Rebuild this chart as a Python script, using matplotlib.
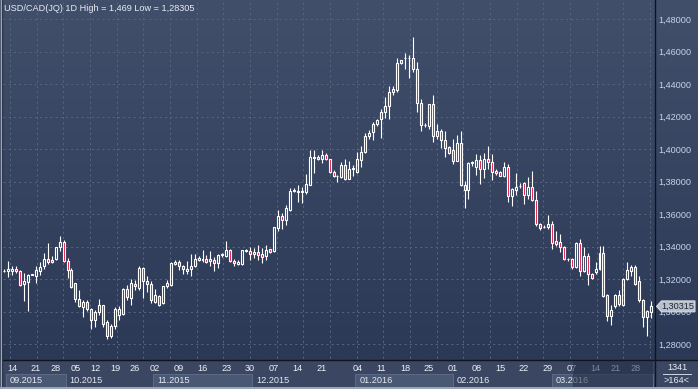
import numpy as np
import matplotlib
matplotlib.use("Agg")
import matplotlib.pyplot as plt
from matplotlib.colors import LinearSegmentedColormap
from matplotlib.patches import Rectangle, Polygon

plt.rcParams["font.family"] = ["Liberation Sans", "DejaVu Sans"]

# -----------------------------
# USD/CAD daily candles
# -----------------------------
opens = [
    1.3252, 1.3248, 1.3248, 1.3263, 1.3252, 1.3169, 1.3181, 1.3227, 1.3217, 1.3248,
    1.3279, 1.3325, 1.3319, 1.3325, 1.3400, 1.3429, 1.3310, 1.3254, 1.3175, 1.3079,
    1.3029, 1.3060, 1.3013, 1.2946, 1.2998, 1.3038, 1.2933, 1.2852, 1.2908, 1.2977,
    1.2983, 1.3138, 1.3081, 1.3171, 1.3144, 1.3269, 1.3190, 1.3171, 1.3060, 1.3096,
    1.3050, 1.3154, 1.3165, 1.3294, 1.3304, 1.3277, 1.3248, 1.3263, 1.3279, 1.3317,
    1.3319, 1.3325, 1.3313, 1.3317, 1.3300, 1.3346, 1.3342, 1.3376, 1.3310, 1.3290,
    1.3290, 1.3375, 1.3371, 1.3367, 1.3367, 1.3355, 1.3341, 1.3382, 1.3371, 1.3514,
    1.3586, 1.3565, 1.3627, 1.3744, 1.3738, 1.3740, 1.3733, 1.3780, 1.3945, 1.3939,
    1.3937, 1.3963, 1.3937, 1.3857, 1.3831, 1.3827, 1.3902, 1.3816, 1.3880, 1.3861,
    1.3933, 1.3984, 1.4080, 1.4102, 1.4153, 1.4184, 1.4225, 1.4262, 1.4348, 1.4364,
    1.4528, 1.4560, 1.4557, 1.4557, 1.4495, 1.4282, 1.4150, 1.4143, 1.4276, 1.4077,
    1.4108, 1.4054, 1.4013, 1.3993, 1.3927, 1.4034, 1.3777, 1.3749, 1.3916, 1.3890,
    1.3933, 1.3880, 1.3937, 1.3923, 1.3866, 1.3859, 1.3835, 1.3890, 1.3708, 1.3749,
    1.3772, 1.3790, 1.3718, 1.3769, 1.3689, 1.3540, 1.3521, 1.3522, 1.3536, 1.3431,
    1.3429, 1.3398, 1.3321, 1.3324, 1.3274, 1.3419, 1.3247, 1.3344, 1.3231, 1.3241,
    1.3264, 1.3357, 1.3103, 1.2975, 1.3031, 1.3103, 1.3041, 1.3200, 1.3247, 1.3274,
    1.3190, 1.3072, 1.2965, 1.3000,
]
highs = [
    1.3262, 1.3310, 1.3279, 1.3279, 1.3258, 1.3238, 1.3233, 1.3231, 1.3279, 1.3304,
    1.3363, 1.3421, 1.3342, 1.3400, 1.3467, 1.3438, 1.3331, 1.3269, 1.3175, 1.3133,
    1.3071, 1.3071, 1.3019, 1.3008, 1.3079, 1.3040, 1.2946, 1.2925, 1.3025, 1.3033,
    1.3144, 1.3165, 1.3200, 1.3192, 1.3279, 1.3275, 1.3217, 1.3185, 1.3138, 1.3102,
    1.3158, 1.3196, 1.3304, 1.3315, 1.3317, 1.3285, 1.3310, 1.3352, 1.3352, 1.3342,
    1.3379, 1.3346, 1.3371, 1.3338, 1.3354, 1.3363, 1.3435, 1.3382, 1.3324, 1.3314,
    1.3378, 1.3386, 1.3398, 1.3392, 1.3412, 1.3392, 1.3412, 1.3386, 1.3520, 1.3627,
    1.3606, 1.3657, 1.3759, 1.3759, 1.3780, 1.3769, 1.3847, 1.3994, 1.3994, 1.3963,
    1.3994, 1.3973, 1.3937, 1.3871, 1.3841, 1.3922, 1.3937, 1.3929, 1.3902, 1.3984,
    1.4018, 1.4096, 1.4116, 1.4167, 1.4185, 1.4249, 1.4317, 1.4389, 1.4385, 1.4559,
    1.4549, 1.4590, 1.4577, 1.4690, 1.4538, 1.4307, 1.4159, 1.4276, 1.4331, 1.4153,
    1.4126, 1.4112, 1.4019, 1.4061, 1.4085, 1.4112, 1.3804, 1.3917, 1.3927, 1.3968,
    1.3962, 1.3974, 1.4019, 1.3968, 1.3876, 1.3866, 1.3917, 1.3907, 1.3757, 1.3851,
    1.3788, 1.3794, 1.3825, 1.3866, 1.3742, 1.3546, 1.3530, 1.3592, 1.3557, 1.3495,
    1.3474, 1.3402, 1.3330, 1.3330, 1.3427, 1.3447, 1.3398, 1.3362, 1.3237, 1.3303,
    1.3406, 1.3406, 1.3109, 1.3041, 1.3109, 1.3134, 1.3206, 1.3303, 1.3289, 1.3289,
    1.3221, 1.3076, 1.3010, 1.3062,
]
lows = [
    1.3244, 1.3213, 1.3227, 1.3238, 1.3158, 1.3067, 1.3004, 1.3225, 1.3175, 1.3227,
    1.3263, 1.3290, 1.3298, 1.3319, 1.3373, 1.3304, 1.3206, 1.3144, 1.3060, 1.3025,
    1.2967, 1.3004, 1.2894, 1.2904, 1.2977, 1.2904, 1.28305, 1.2835, 1.2894, 1.2950,
    1.2977, 1.3071, 1.3040, 1.3133, 1.3133, 1.3081, 1.3123, 1.3054, 1.3050, 1.3033,
    1.3046, 1.3144, 1.3160, 1.3285, 1.3258, 1.3231, 1.3233, 1.3221, 1.3273, 1.3308,
    1.3304, 1.3296, 1.3283, 1.3248, 1.3269, 1.3338, 1.3338, 1.3304, 1.3280, 1.3284,
    1.3286, 1.3365, 1.3314, 1.3331, 1.3320, 1.3296, 1.3320, 1.3361, 1.3369, 1.3494,
    1.3508, 1.3535, 1.3616, 1.3733, 1.3671, 1.3667, 1.3724, 1.3780, 1.3851, 1.3933,
    1.3912, 1.3933, 1.3851, 1.3827, 1.3800, 1.3820, 1.3810, 1.3814, 1.3831, 1.3855,
    1.3892, 1.3973, 1.4059, 1.4056, 1.4143, 1.4065, 1.4188, 1.4184, 1.4331, 1.4348,
    1.4524, 1.4491, 1.4434, 1.4471, 1.4229, 1.4112, 1.4138, 1.4126, 1.4044, 1.4061,
    1.4009, 1.3948, 1.3968, 1.3907, 1.3927, 1.3773, 1.3640, 1.3691, 1.3896, 1.3841,
    1.3784, 1.3821, 1.3880, 1.3810, 1.3841, 1.3831, 1.3825, 1.3671, 1.3650, 1.3716,
    1.3763, 1.3661, 1.3691, 1.3681, 1.3526, 1.3501, 1.3513, 1.3509, 1.3386, 1.3406,
    1.3365, 1.3315, 1.3309, 1.3262, 1.3268, 1.3221, 1.3241, 1.3165, 1.3200, 1.3233,
    1.3258, 1.3089, 1.2944, 1.2918, 1.3021, 1.3031, 1.3035, 1.3196, 1.3221, 1.3165,
    1.3056, 1.2907, 1.2852, 1.2963,
]
closes = [
    1.3250, 1.3263, 1.3263, 1.3248, 1.3165, 1.3185, 1.3227, 1.3229, 1.3258, 1.3275,
    1.3325, 1.3304, 1.3306, 1.3400, 1.3425, 1.3310, 1.3254, 1.3150, 1.3077, 1.3033,
    1.3060, 1.3013, 1.2946, 1.2998, 1.3038, 1.2925, 1.2852, 1.2908, 1.3013, 1.3013,
    1.3138, 1.3088, 1.3175, 1.3154, 1.3269, 1.3185, 1.3171, 1.3071, 1.3102, 1.3040,
    1.3158, 1.3175, 1.3300, 1.3306, 1.3279, 1.3260, 1.3263, 1.3283, 1.3321, 1.3327,
    1.3325, 1.3306, 1.3325, 1.3300, 1.3346, 1.3354, 1.3377, 1.3310, 1.3296, 1.3304,
    1.3376, 1.3377, 1.3355, 1.3351, 1.3347, 1.3337, 1.3376, 1.3367, 1.3518, 1.3586,
    1.3565, 1.3637, 1.3743, 1.3746, 1.3740, 1.3738, 1.3786, 1.3949, 1.3949, 1.3953,
    1.3963, 1.3939, 1.3857, 1.3831, 1.3833, 1.3902, 1.3816, 1.3876, 1.3884, 1.3937,
    1.3984, 1.4080, 1.4100, 1.4153, 1.4179, 1.4225, 1.4262, 1.4348, 1.4368, 1.4532,
    1.4545, 1.4562, 1.4559, 1.4495, 1.4282, 1.4149, 1.4148, 1.4276, 1.4077, 1.4108,
    1.4054, 1.4009, 1.3978, 1.3927, 1.4034, 1.3777, 1.3749, 1.3913, 1.3918, 1.3933,
    1.3880, 1.3937, 1.3923, 1.3859, 1.3851, 1.3835, 1.3890, 1.3708, 1.3753, 1.3769,
    1.3774, 1.3718, 1.3769, 1.3687, 1.3540, 1.3515, 1.3523, 1.3536, 1.3419, 1.3416,
    1.3398, 1.3324, 1.3323, 1.3274, 1.3419, 1.3247, 1.3344, 1.3231, 1.3206, 1.3264,
    1.3357, 1.3093, 1.2975, 1.3010, 1.3103, 1.3045, 1.3202, 1.3254, 1.3272, 1.3171,
    1.3072, 1.2965, 1.3006, 1.30315,
]

price_levels = [1.28, 1.30, 1.32, 1.34, 1.36, 1.38, 1.40, 1.42, 1.44, 1.46, 1.48]
date_labels = ["14", "21", "28", "05", "12", "19", "26", "02", "09", "16", "23", "30",
               "07", "14", "21", "04", "11", "18", "25", "01", "08", "15", "22", "29",
               "07", "14", "21", "28"]
date_bars = [2, 8, 13, 18, 23, 28, 33, 38, 44, 50, 56, 62, 68, 74, 80, 89, 95, 101,
             107, 113, 119, 125, 131, 137, 143, 149, 154, 159]
month_labels = ["09.2015", "10.2015", "11.2015", "12.2015", "01.2016", "02.2016", "03.2016"]
month_start_bars = [0.5, 15.5, 37.5, 62.5, 88.5, 113, 138]
month_end_bar = 163.5

title = "USD/CAD(JQ) 1D High = 1,469 Low = 1,28305"
last_price = 1.30315

# -----------------------------
# layout (pixels of the 698x389 picture)
# -----------------------------
W, H = 698, 389
PLOT_L, PLOT_R, PLOT_T, PLOT_B = 3, 655, 2, 360
X0, DX = 4.0, 3.97          # pixel of bar 0, pixels per bar
Y_REF, V_REF, PX_PER = 19.0, 1.48, 1625.0


def bx(b):
    return X0 + DX * b


def py(v):
    return Y_REF + (V_REF - v) * PX_PER


fig = plt.figure(figsize=(W / 100, H / 100), dpi=100)
fig.patch.set_facecolor("#39445f")

# background layer in pixel coordinates
bg = fig.add_axes([0, 0, 1, 1], zorder=0)
bg.set_xlim(0, W)
bg.set_ylim(H, 0)
bg.axis("off")

grad = LinearSegmentedColormap.from_list("g", ["#424f6b", "#2c3956"])
bg.imshow(np.linspace(0, 1, 200)[:, None], cmap=grad, aspect="auto",
          extent=[0, W, PLOT_B, 0], zorder=0)
bg.add_patch(Rectangle((0, PLOT_B), W, H - PLOT_B, facecolor="#3a4662", edgecolor="none", zorder=1))

# vertical dashed grid (fixed pixel spacing)
for gx in np.arange(10, PLOT_R, 26.67):
    bg.plot([gx, gx], [PLOT_T, PLOT_B], color="#56647f", lw=0.75,
            ls=(0, (2, 3)), zorder=2)

# month boxes, alternate ones shaded
for i, (lab, b0) in enumerate(zip(month_labels, month_start_bars)):
    b1 = month_start_bars[i + 1] if i + 1 < len(month_start_bars) else month_end_bar
    if i % 2 == 0:
        bg.add_patch(Rectangle((bx(b0), 374), bx(b1) - bx(b0), 12.5,
                               facecolor="#4a5874", edgecolor="#5c6a86", lw=0.7, zorder=2))
    bg.text(bx(b0) + 4, 380.5, lab, color="#e4eaf4", fontsize=6.6,
            ha="left", va="center", zorder=3)

# separator lines and outer frame
bg.plot([PLOT_L, W], [PLOT_B, PLOT_B], color="#10141c", lw=1.0, zorder=4)
bg.plot([PLOT_R, PLOT_R], [0, H], color="#10141c", lw=1.0, zorder=4)
bg.plot([1.5, 1.5], [0, H], color="#1a2030", lw=1.0, zorder=4)
bg.plot([0.5, 0.5], [0, H], color="#9aa6b8", lw=1.0, zorder=4)
bg.add_patch(Rectangle((0, 386.5), W, 2.5, facecolor="#9aa6b8", edgecolor="none", zorder=4))

# -----------------------------
# candles
# -----------------------------
ax = fig.add_axes([PLOT_L / W, (H - PLOT_B) / H, (PLOT_R - PLOT_L) / W,
                   (PLOT_B - PLOT_T) / H], zorder=1)
ax.patch.set_visible(False)
ax.set_xlim((PLOT_L - X0) / DX, (PLOT_R - X0) / DX)
ax.set_ylim(V_REF - (PLOT_B - Y_REF) / PX_PER, V_REF + (Y_REF - PLOT_T) / PX_PER)
for s in ax.spines.values():
    s.set_visible(False)

for lvl in price_levels:
    ax.axhline(lvl, color="#56647f", lw=0.75, ls=(0, (2, 3)), zorder=1)

o = np.array(opens)
h = np.array(highs)
l = np.array(lows)
c = np.array(closes)
x = np.arange(len(o))
up = c >= o
top = np.maximum(o, c)
bot = np.minimum(o, c)

ax.vlines(x, top, h, color="white", lw=0.8, zorder=3)
ax.vlines(x, l, bot, color="white", lw=0.8, zorder=3)
ax.bar(x, np.maximum(top - bot, 0.0001), bottom=bot, width=0.5,
       color=["none" if u else "#e0163f" for u in up],
       edgecolor="white", linewidth=0.8, zorder=4)

# price axis on the right
ax.yaxis.tick_right()
ax.set_yticks(price_levels)
ax.set_yticklabels([f"{v:.5f}".replace(".", ",") for v in price_levels])
ax.tick_params(axis="y", length=0, pad=2.3, labelsize=6.6, labelcolor="#c6d3ea")

# date axis
ax.set_xticks(date_bars)
ax.set_xticklabels(date_labels)
ax.tick_params(axis="x", length=0, pad=3.2, labelsize=6.6, labelcolor="#eef2f8")

# -----------------------------
# overlay: title, shaded future zone, last-price tag, counter box
# -----------------------------
ov = fig.add_axes([0, 0, 1, 1], zorder=2)
ov.set_xlim(0, W)
ov.set_ylim(H, 0)
ov.axis("off")

ov.text(4, 8, title, color="#e6ecf5", fontsize=6.6, ha="left", va="center")

ov.add_patch(Rectangle((573, 361), 80, 25.5, facecolor="#222c44", alpha=0.55,
                       edgecolor="none"))

yl = py(last_price)
ov.add_patch(Polygon([(656.5, yl), (661.5, yl - 5.5), (695, yl - 5.5),
                      (695, yl + 5.5), (661.5, yl + 5.5)], closed=True,
                     facecolor="#b9c1cc", edgecolor="#dde2e8", lw=0.7))
ov.text(678, yl, f"{last_price:.5f}".replace(".", ","), color="#1e2638",
        fontsize=6.6, ha="center", va="center")

ov.text(677, 367.5, str(1341), color="#e6ecf5", fontsize=6.6, ha="center", va="center")
ov.plot([663, 691], [374, 374], color="#cfd6e2", lw=0.7)
ov.text(677, 380.5, ">164<", color="#e6ecf5", fontsize=6.6, ha="center", va="center")

fig.savefig("out.png", dpi=100, facecolor=fig.get_facecolor())
